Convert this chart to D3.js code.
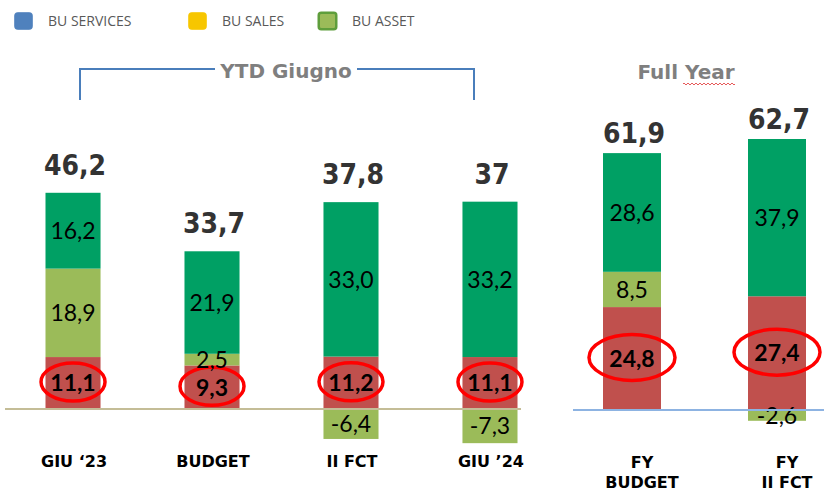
<!DOCTYPE html>
<html>
<head>
<meta charset="utf-8">
<script src="https://cdn.jsdelivr.net/npm/d3@7"></script>
<style>
  html, body { margin: 0; padding: 0; background: #ffffff; }
  svg { display: block; }
</style>
</head>
<body>
<svg id="chart" width="824" height="492"></svg>
<script>
// ---------- DATA ----------
const ytdCategories = ["GIU \u201823", "BUDGET", "II FCT", "GIU \u201924"];
const ytdServices = [11.1, 9.3, 11.2, 11.1];   // red (bottom)
const ytdAsset    = [18.9, 2.5, -6.4, -7.3];   // light green
const ytdSales    = [16.2, 21.9, 33.0, 33.2];  // dark green (top)
const ytdTotals   = [46.2, 33.7, 37.8, 37];

const fyCategories = [["FY", "BUDGET"], ["FY", "II FCT"]];
const fyServices = [24.8, 27.4];
const fyAsset    = [8.5, -2.6];
const fySales    = [28.6, 37.9];
const fyTotals   = [61.9, 62.7];

const legendLabels = ["BU SERVICES", "BU SALES", "BU ASSET"];
const panelTitles = ["YTD Giugno", "Full Year"];

// ---------- STYLE ----------
const COL = { red: "#c0504d", light: "#9bbb59", dark: "#00a064" };
const legendColors = ["#4f81bd", "#f7c600", "#9bbb59"];
const legendStroke = ["#4f81bd", "#f7c600", "#5f9e3c"];

const it = d3.formatLocale({ decimal: ",", thousands: ".", grouping: [3], currency: ["€", ""], minus: "-" });
const fmtSeg = it.format(".1f");
const fmtTot = it.format(".1~f");

const svg = d3.select("#chart");
const TOTAL_FONT = "'DejaVu Sans Condensed', 'DejaVu Sans', sans-serif";
const HEAD_FONT = "'DejaVu Sans', sans-serif";
const SEG_FONT = "Lato, 'Open Sans', sans-serif";

// ---------- LEGEND ----------
const legendX = [14, 188, 318];
const lg = svg.append("g");
legendLabels.forEach((t, i) => {
  lg.append("rect").attr("x", legendX[i] + 0.75).attr("y", 12.75).attr("width", 17.5).attr("height", 16.5)
    .attr("rx", 2.5).attr("fill", legendColors[i]).attr("stroke", legendStroke[i]).attr("stroke-width", i === 2 ? 2.5 : 1);
  lg.append("text").attr("x", legendX[i] + 34).attr("y", 26).text(t)
    .attr("font-family", "'Open Sans', sans-serif").attr("font-size", 14).attr("fill", "#595959");
});

// ---------- PANEL DRAW ----------
function stackSegments(svc, asset, sales) {
  return svc.map((s, i) => {
    const segs = [];
    segs.push({ y0: 0, y1: s, v: s, c: COL.red, key: "svc" });
    let pos = s;
    const a = asset[i];
    if (a >= 0) { segs.push({ y0: pos, y1: pos + a, v: a, c: COL.light, key: "asset" }); pos += a; }
    else { segs.push({ y0: a, y1: 0, v: a, c: COL.light, key: "asset" }); }
    segs.push({ y0: pos, y1: pos + sales[i], v: sales[i], c: COL.dark, key: "sales" });
    return { segs, top: pos + sales[i] };
  });
}

function drawPanel(opts) {
  const { cats, svc, asset, sales, totals, x, y, ell, totalOffset, totalSize, catLines, catDx, baseLine } = opts;
  const g = svg.append("g");
  const stacks = stackSegments(svc, asset, sales);
  const keys = cats.map(c => Array.isArray(c) ? c.join(" ") : c);

  stacks.forEach((st, i) => {
    const bx = x(keys[i]);
    const bw = x.bandwidth();
    const cx = bx + bw / 2;
    st.segs.forEach(sg => {
      g.append("rect").attr("x", bx).attr("width", bw)
        .attr("y", y(sg.y1)).attr("height", y(sg.y0) - y(sg.y1)).attr("fill", sg.c);
    });
    st.segs.forEach(sg => {
      const cy = (y(sg.y0) + y(sg.y1)) / 2;
      const isSvc = sg.key === "svc";
      g.append("text").attr("x", cx).attr("y", cy).attr("dy", "0.36em")
        .attr("text-anchor", "middle").attr("font-family", SEG_FONT)
        .attr("font-size", 23).attr("font-weight", isSvc ? 700 : 400)
        .attr("fill", "#000").text(fmtSeg(sg.v));
      if (isSvc) {
        g.append("ellipse").attr("cx", cx).attr("cy", cy - 1)
          .attr("rx", ell[0]).attr("ry", ell[1])
          .attr("fill", "none").attr("stroke", "#ff0000").attr("stroke-width", 3.5);
      }
    });
    g.append("text").attr("x", cx + 2).attr("y", y(st.top) - totalOffset)
      .attr("text-anchor", "middle").attr("font-family", TOTAL_FONT)
      .attr("font-weight", 700).attr("font-size", totalSize).attr("fill", "#333333")
      .text(fmtTot(totals[i]));
    const lines = Array.isArray(cats[i]) ? cats[i] : [cats[i]];
    lines.forEach((ln, j) => {
      g.append("text").attr("x", cx + catDx).attr("y", catLines[0] + j * catLines[1])
        .attr("text-anchor", "middle").attr("font-family", HEAD_FONT)
        .attr("font-weight", 700).attr("font-size", 16).attr("fill", "#000").text(ln);
    });
  });
  g.append("line").attr("x1", baseLine[0]).attr("x2", baseLine[1])
    .attr("y1", y(0)).attr("y2", y(0)).attr("stroke", baseLine[2]).attr("stroke-width", 2);
}

// Left panel (YTD)
const xL = d3.scaleBand().domain(ytdCategories).range([3.8, 559.2]).paddingInner(0.604).paddingOuter(0.3);
const yL = d3.scaleLinear().domain([0, 50]).range([409, 175]);
drawPanel({ cats: ytdCategories, svc: ytdServices, asset: ytdAsset, sales: ytdSales, totals: ytdTotals,
  x: xL, y: yL, ell: [32, 19], totalOffset: 18, totalSize: 28, catLines: [467, 20], catDx: 1,
  baseLine: [5, 521, "#c4bd97"] });

// Right panel (Full Year)
const fyKeys = fyCategories.map(c => c.join(" "));
const xR = d3.scaleBand().domain(fyKeys).range([559.5, 849.5]).paddingInner(0.6).paddingOuter(0.3);
const yR = d3.scaleLinear().domain([0, 70]).range([410, 119.5]);
drawPanel({ cats: fyCategories, svc: fyServices, asset: fyAsset, sales: fySales, totals: fyTotals,
  x: xR, y: yR, ell: [43, 23], totalOffset: 10, totalSize: 28, catLines: [468, 20], catDx: 10,
  baseLine: [573, 824, "#8db3e2"] });

// ---------- PANEL TITLES ----------
const tg = svg.append("g");
tg.append("path").attr("d", "M80,100 V69 H215 M357,69 H474 V100")
  .attr("fill", "none").attr("stroke", "#4a7ebb").attr("stroke-width", 2);
tg.append("text").attr("x", 286).attr("y", 78).attr("text-anchor", "middle")
  .attr("font-family", HEAD_FONT).attr("font-weight", 700).attr("font-size", 20)
  .attr("fill", "#7f7f7f").text(panelTitles[0]);
tg.append("text").attr("x", 686).attr("y", 79).attr("text-anchor", "middle")
  .attr("font-family", HEAD_FONT).attr("font-weight", 700).attr("font-size", 20)
  .attr("fill", "#7f7f7f").text(panelTitles[1]);
// spell-check squiggle under "Year"
let sq = "M683,84";
for (let xx = 683; xx < 733; xx += 4) sq += ` L${xx + 1},83 L${xx + 3},85 L${xx + 4},84`;
tg.append("path").attr("d", sq).attr("fill", "none").attr("stroke", "#e03030").attr("stroke-width", 0.8);
</script>
</body>
</html>
